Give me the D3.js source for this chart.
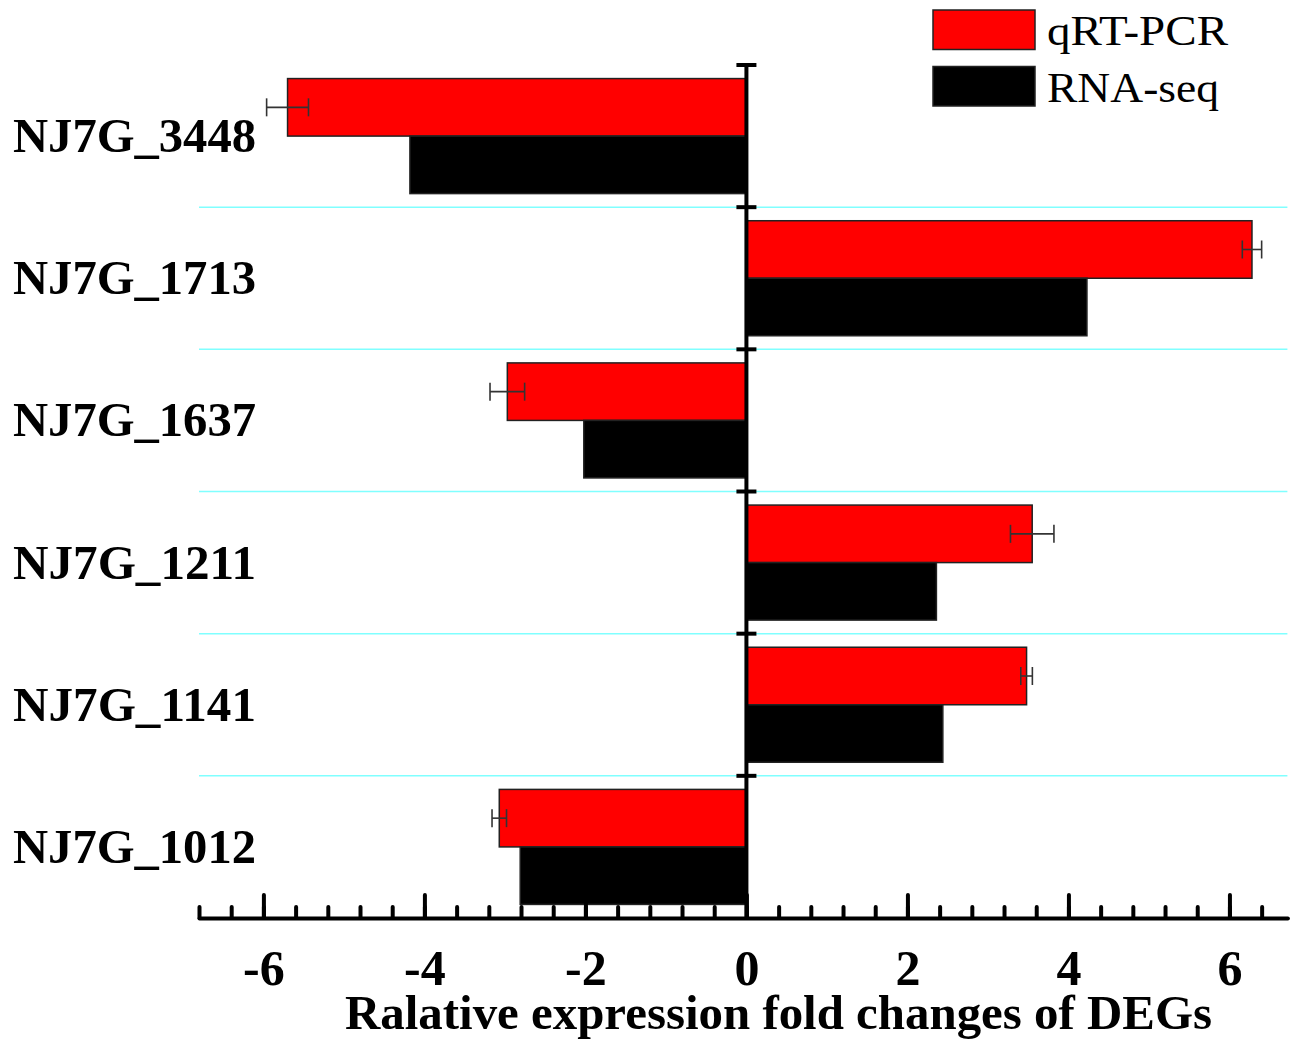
<!DOCTYPE html>
<html>
<head>
<meta charset="utf-8">
<script src="https://cdn.jsdelivr.net/npm/d3@7"></script>
<style>
  html, body { margin: 0; padding: 0; background: #ffffff; }
  svg { display: block; font-family: "Liberation Serif", "Times New Roman", serif; }
</style>
</head>
<body>
<div id="chart"></div>
<script>
// ============================================
// DATA
// ============================================

const genes = ["NJ7G_3448", "NJ7G_1713", "NJ7G_1637", "NJ7G_1211", "NJ7G_1141", "NJ7G_1012"];
const seriesNames = ["qRT-PCR", "RNA-seq"];
const qpcrValues = [-5.70, 6.28, -2.97, 3.55, 3.48, -3.07];
const qpcrErrors = [0.26, 0.12, 0.215, 0.27, 0.072, 0.09];
const rnaseqValues = [-4.18, 4.23, -2.02, 2.36, 2.44, -2.81];
const majorTicks = [-6, -4, -2, 0, 2, 4, 6];
const minorTicks = d3.range(-17, 17).map((i) => +(i * 0.4).toFixed(1));

const COLORS = { "qRT-PCR": "#ff0000", "RNA-seq": "#000000" };

// ============================================
// LAYOUT
// ============================================

const width = 1296;
const height = 1040;
const plot = { left: 199, right: 1287.4, top: 65, bottom: 918 };

const svg = d3.select("#chart")
  .append("svg")
  .attr("width", width)
  .attr("height", height);

const x = d3.scaleLinear().domain([-6.8, 6.72]).range([plot.left, plot.right]);
const y = d3.scaleBand().domain(genes).range([plot.top, plot.bottom]);
const ySub = d3.scaleBand().domain(seriesNames).range([0, y.bandwidth()]).paddingOuter(0.236);

const rows = genes.map((g, i) => ({
  gene: g,
  values: [
    { key: "qRT-PCR", value: qpcrValues[i], err: qpcrErrors[i] },
    { key: "RNA-seq", value: rnaseqValues[i], err: null },
  ],
}));

// grid lines between categories
svg.append("g")
  .selectAll("line")
  .data(genes.slice(1))
  .join("line")
  .attr("x1", plot.left)
  .attr("x2", plot.right)
  .attr("y1", (d) => y(d))
  .attr("y2", (d) => y(d))
  .attr("stroke", "#80ffff")
  .attr("stroke-width", 1.5);

// bars
const groups = svg.append("g")
  .selectAll("g")
  .data(rows)
  .join("g")
  .attr("transform", (d) => `translate(0,${y(d.gene)})`);

groups.selectAll("rect")
  .data((d) => d.values)
  .join("rect")
  .attr("x", (d) => x(Math.min(0, d.value)))
  .attr("width", (d) => Math.abs(x(d.value) - x(0)))
  .attr("y", (d) => ySub(d.key))
  .attr("height", ySub.bandwidth())
  .attr("fill", (d) => COLORS[d.key])
  .attr("stroke", "#222")
  .attr("stroke-width", 1.5);

// error bars on qRT-PCR
const errs = groups.selectAll("g.err")
  .data((d) => d.values.filter((v) => v.err != null))
  .join("g")
  .attr("class", "err")
  .attr("stroke", "#333")
  .attr("stroke-width", 1.6);

errs.append("line")
  .attr("x1", (d) => x(d.value - d.err))
  .attr("x2", (d) => x(d.value + d.err))
  .attr("y1", (d) => ySub(d.key) + ySub.bandwidth() / 2)
  .attr("y2", (d) => ySub(d.key) + ySub.bandwidth() / 2);

[-1, 1].forEach((s) => {
  errs.append("line")
    .attr("x1", (d) => x(d.value + s * d.err))
    .attr("x2", (d) => x(d.value + s * d.err))
    .attr("y1", (d) => ySub(d.key) + ySub.bandwidth() / 2 - 9)
    .attr("y2", (d) => ySub(d.key) + ySub.bandwidth() / 2 + 9);
});

// ============================================
// AXES
// ============================================

// vertical zero axis with caps at category boundaries
const zeroAxis = svg.append("g").attr("stroke", "#000").attr("stroke-width", 4);
zeroAxis.append("line")
  .attr("x1", x(0)).attr("x2", x(0))
  .attr("y1", plot.top - 2).attr("y2", plot.bottom);
zeroAxis.selectAll("line.cap")
  .data(genes)
  .join("line")
  .attr("class", "cap")
  .attr("x1", x(0) - 10)
  .attr("x2", x(0) + 10)
  .attr("y1", (d) => y(d))
  .attr("y2", (d) => y(d));

// bottom axis: minor ticks
const minorAxis = svg.append("g")
  .attr("transform", `translate(0,${plot.bottom})`)
  .call(d3.axisBottom(x).tickValues(minorTicks).tickSize(-11).tickSizeOuter(0).tickFormat(""));
minorAxis.selectAll("line").attr("stroke-width", 4).attr("stroke-linecap", "round");
minorAxis.select(".domain").attr("stroke-width", 4).attr("stroke-linecap", "round");

// bottom axis: major ticks with labels
const majorAxis = svg.append("g")
  .attr("transform", `translate(0,${plot.bottom})`)
  .call(d3.axisBottom(x).tickValues(majorTicks).tickSize(-23).tickSizeOuter(0).tickPadding(31)
    .tickFormat((d) => d));
majorAxis.select(".domain").remove();
majorAxis.selectAll("line").attr("stroke-width", 4).attr("stroke-linecap", "round");
majorAxis.selectAll("text")
  .attr("font-family", "'Liberation Serif', 'Times New Roman', serif")
  .attr("font-size", 50)
  .attr("font-weight", "bold")
  .attr("fill", "#000");

// category labels
svg.append("g")
  .selectAll("text")
  .data(genes)
  .join("text")
  .attr("x", 13)
  .attr("y", (d) => y(d) + y.bandwidth() / 2 + 16)
  .attr("font-size", 48)
  .attr("font-weight", "bold")
  .attr("textLength", 243)
  .attr("lengthAdjust", "spacingAndGlyphs")
  .text((d) => d);

// axis title
svg.append("text")
  .attr("x", 345)
  .attr("y", 1029)
  .attr("font-size", 48)
  .attr("font-weight", "bold")
  .attr("textLength", 867)
  .attr("lengthAdjust", "spacingAndGlyphs")
  .text("Ralative expression fold changes of DEGs");

// ============================================
// LEGEND
// ============================================

const legend = svg.append("g")
  .selectAll("g")
  .data(seriesNames)
  .join("g")
  .attr("transform", (d, i) => `translate(933,${10 + i * 56.5})`);

legend.append("rect")
  .attr("width", 102)
  .attr("height", 39.5)
  .attr("fill", (d) => COLORS[d])
  .attr("stroke", "#222")
  .attr("stroke-width", 1.5);

legend.append("text")
  .attr("x", 114)
  .attr("y", 35)
  .attr("font-size", 42)
  .attr("textLength", (d) => (d === "qRT-PCR" ? 181 : 172))
  .attr("lengthAdjust", "spacingAndGlyphs")
  .text((d) => d);
</script>
</body>
</html>
